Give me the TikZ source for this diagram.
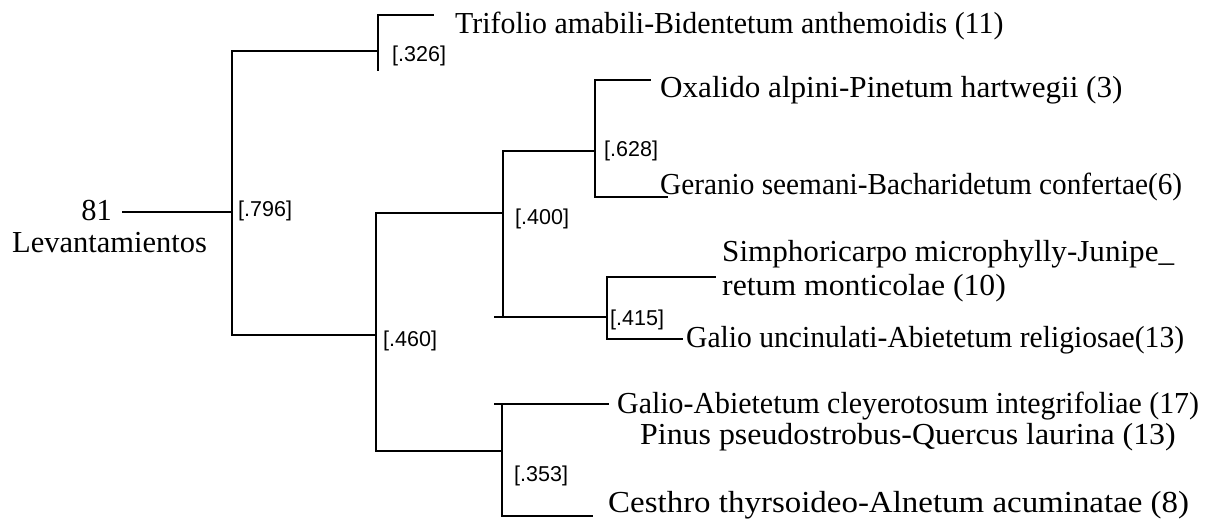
\documentclass[tikz,border=0pt]{standalone}
\usepackage{fontspec}
\setmainfont{Liberation Serif}
\newfontfamily\labfont{Liberation Sans}
\begin{document}
\begin{tikzpicture}[x=1pt,y=-1pt,
  br/.style={line width=2.6pt,line cap=rect},
  leaf/.style={anchor=base west,inner sep=0pt,font=\fontsize{30.5}{35}\selectfont},
  sim/.style={anchor=west,inner sep=0pt,font=\labfont\fontsize{21.5}{24}\selectfont}]
\useasboundingbox (0,0) rectangle (1205,521);
% root text
\node[anchor=base east,inner sep=0pt,font=\fontsize{30.5}{35}\selectfont] (n81) at (112,221) {81};
\node[anchor=base west,inner sep=0pt,font=\fontsize{30.5}{35}\selectfont] (lev) at (12,253) {Levantamientos};
% junction coordinates
\coordinate (r0) at (123,212);
\coordinate (r) at (232,212);
\coordinate (rt) at (232,51);
\coordinate (rb) at (232,335);
% top branch
\coordinate (t) at (378,51);
\coordinate (tt) at (378,15);
\coordinate (tb) at (378,70);
\coordinate (tl) at (433,15);
% lower branch
\coordinate (b) at (376,335);
\coordinate (bt) at (376,213);
\coordinate (bb) at (376,451);
% A (.400)
\coordinate (a) at (503,213);
\coordinate (at) at (503,151);
\coordinate (ab) at (503,317);
% B (.628)
\coordinate (p) at (595,151);
\coordinate (pt) at (595,80);
\coordinate (pb) at (595,197);
\coordinate (pl1) at (650,80);
\coordinate (pl2) at (667,197);
% C (.415)
\coordinate (c0) at (495,317);
\coordinate (c) at (607,317);
\coordinate (ct) at (607,277);
\coordinate (cb) at (607,339);
\coordinate (cl1) at (715,277);
\coordinate (cl2) at (682,339);
% D (.353)
\coordinate (d) at (502,451);
\coordinate (dt) at (502,404);
\coordinate (db) at (502,516);
\coordinate (dt0) at (495,404);
\coordinate (dl1) at (608,404);
\coordinate (dl2) at (592,516);
% lines
\draw[br] (r0) -- (r);
\draw[br] (rt) -- (rb);
\draw[br] (rt) -- (t);
\draw[br] (tt) -- (tb);
\draw[br] (tt) -- (tl);
\draw[br] (rb) -- (b);
\draw[br] (bt) -- (bb);
\draw[br] (bt) -- (a);
\draw[br] (at) -- (ab);
\draw[br] (at) -- (p);
\draw[br] (pt) -- (pb);
\draw[br] (pt) -- (pl1);
\draw[br] (pb) -- (pl2);
\draw[br] (c0) -- (c);
\draw[br] (ct) -- (cb);
\draw[br] (ct) -- (cl1);
\draw[br] (cb) -- (cl2);
\draw[br] (bb) -- (d);
\draw[br] (dt) -- (db);
\draw[br] (dt0) -- (dl1);
\draw[br] (db) -- (dl2);
% similarity labels
\node[sim] (s796) at (238,211) {[.796]};
\node[sim] (s326) at (392,56) {[.326]};
\node[sim] (s460) at (383,341) {[.460]};
\node[sim] (s400) at (515,219) {[.400]};
\node[sim] (s628) at (604,151) {[.628]};
\node[sim] (s415) at (610,320) {[.415]};
\node[sim] (s353) at (514,476) {[.353]};
% leaves
\node[leaf,xscale=0.98] (l1) at (455,34) {Trifolio amabili-Bidentetum anthemoidis (11)};
\node[leaf,xscale=1.02] (l2) at (660,98) {Oxalido alpini-Pinetum hartwegii (3)};
\node[leaf,xscale=0.96] (l3) at (660,195) {Geranio seemani-Bacharidetum confertae(6)};
\node[leaf,xscale=1.02] (l4) at (722,262) {Simphoricarpo microphylly-Junipe\_};
\node[leaf,xscale=1.04] (l5) at (722,296) {retum monticolae (10)};
\node[leaf,xscale=0.97] (l6) at (686,348) {Galio uncinulati-Abietetum religiosae(13)};
\node[leaf,xscale=0.98] (l7) at (617,413) {Galio-Abietetum cleyerotosum integrifoliae (17)};
\node[leaf,xscale=1.045] (l8) at (640,444) {Pinus pseudostrobus-Quercus laurina (13)};
\node[leaf,xscale=1.08] (l9) at (608,512) {Cesthro thyrsoideo-Alnetum acuminatae (8)};
\end{tikzpicture}
\end{document}
